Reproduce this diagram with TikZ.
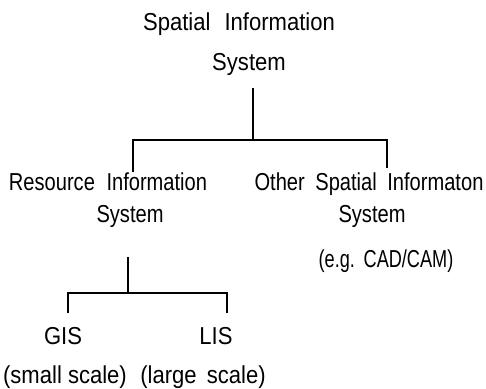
\documentclass[tikz,border=0pt]{standalone}
\usepackage{fontspec}
\setmainfont[FakeStretch=0.9]{Liberation Sans}
\newfontfamily\fontmid[FakeStretch=0.82]{Liberation Sans}
\newfontfamily\fontnarrow[FakeStretch=0.74]{Liberation Sans}
\begin{document}
\begin{tikzpicture}[x=1pt,y=-1pt,
  txt/.style={inner sep=0pt, anchor=base, font=\fontsize{24.5}{28}\selectfont},
  txtmid/.style={txt, font=\fontmid\fontsize{24.5}{28}\selectfont},
  txtnarrow/.style={txt, font=\fontnarrow\fontsize{24.5}{28}\selectfont},
  tree/.style={line width=1.4pt}]
\useasboundingbox (0,0) rectangle (486,388);
% level 0
\node[txt] (sisa) at (239,30) {Spatial\hspace{8pt} Information};
\node[txt] (sisb) at (249,70) {System};
% level 1
\node[txtmid] (risa) at (108,190) {Resource\hspace{6pt} Information};
\node[txtmid] (risb) at (130,222) {System};
\node[txtmid] (osa) at (369,190) {Other\hspace{5pt} Spatial\hspace{5pt} Informaton};
\node[txtmid] (osb) at (372,222) {System};
\node[txtnarrow] (osc) at (386,267) {(e.g.\hspace{2pt} CAD/CAM)};
% level 2
\node[txt] (gis) at (63,344) {GIS};
\node[txt] (gisb) at (65,383) {(small scale)};
\node[txt] (lis) at (216,344) {LIS};
\node[txt] (lisb) at (203,383) {(large\hspace{4pt} scale)};
% connectors
\coordinate (t0) at (253,88);
\coordinate (j0) at (253,140);
\coordinate (l0) at (133,140);
\coordinate (r0) at (387,140);
\coordinate (l0b) at (133,172);
\coordinate (r0b) at (387,168);
\draw[tree] (t0) -- (j0);
\draw[tree] (l0b) -- (l0) -- (r0) -- (r0b);
\coordinate (t1) at (128,257);
\coordinate (j1) at (128,293);
\coordinate (l1) at (68,293);
\coordinate (r1) at (227,293);
\coordinate (l1b) at (68,313);
\coordinate (r1b) at (227,313);
\draw[tree] (t1) -- (j1);
\draw[tree] (l1b) -- (l1) -- (r1) -- (r1b);
\end{tikzpicture}
\end{document}
